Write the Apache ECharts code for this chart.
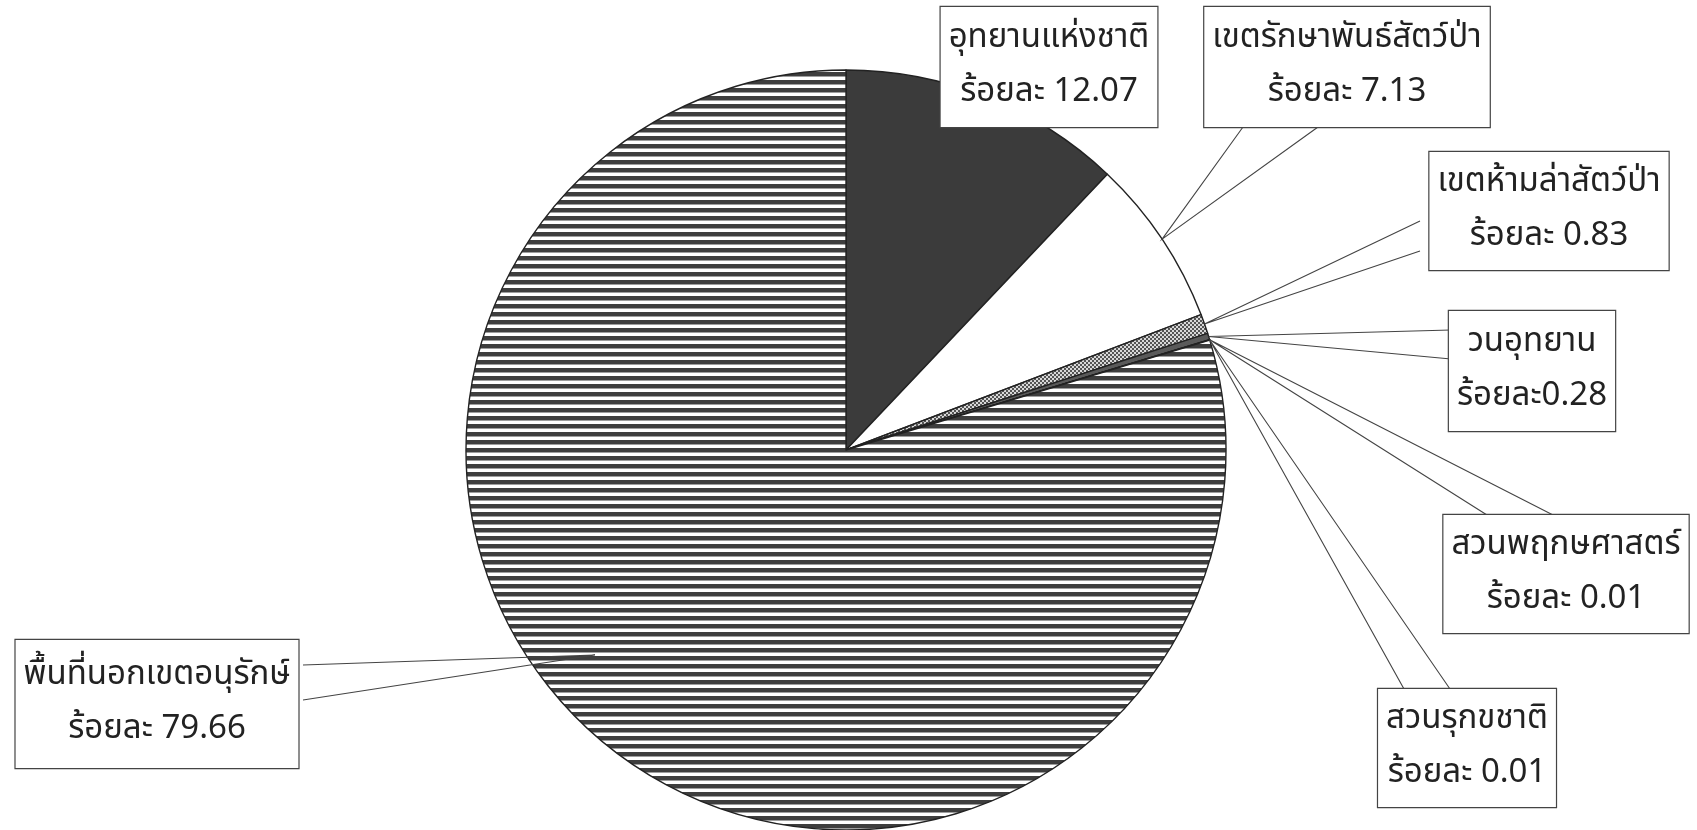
<!DOCTYPE html>
<html><head><meta charset="utf-8">
<script src="https://cdn.jsdelivr.net/npm/echarts@6/dist/echarts.min.js"></script>
<style>html,body{margin:0;padding:0;background:#fff}#c{width:1697px;height:830px}</style>
</head><body><div id="c"></div>
<script>
// ---- data ----
const categories = ['อุทยานแห่งชาติ','เขตรักษาพันธ์สัตว์ป่า','เขตห้ามล่าสัตว์ป่า','วนอุทยาน','สวนพฤกษศาสตร์','สวนรุกขชาติ','พื้นที่นอกเขตอนุรักษ์'];
const values = [12.07, 7.13, 0.83, 0.28, 0.01, 0.01, 79.66];
const valueSeparators = [' ', ' ', ' ', '', ' ', ' ', ' '];
const valuePrefix = 'ร้อยละ';

// ---- layout of callout boxes (px) ----
const boxes = [
  {x:936, y:7,   w:226, pad:6, pointer:null},
  {x:1194,y:7,   w:306, pad:6, pointer:[[1243,127],[1318,127]]},
  {x:1420,y:152, w:258, pad:5, pointer:[[1420,221],[1420,251]]},
  {x:1451,y:311, w:162, pad:6, pointer:[[1451,330],[1451,359]]},
  {x:1448,y:515, w:236, pad:5, pointer:[[1487,515],[1553,515]]},
  {x:1374,y:689, w:186, pad:5, pointer:[[1404,689],[1450,689]]},
  {x:11,  y:640, w:292, pad:10, pointer:[[303,665],[303,700]], tip:[595,655]}
];

function makePattern(w, h, draw){
  const c = document.createElement('canvas'); c.width = w; c.height = h;
  const g = c.getContext('2d'); draw(g); return c;
}
const stripes = makePattern(4, 8, g => { g.fillStyle='#fff'; g.fillRect(0,0,4,8); g.fillStyle='#3e3e3e'; g.fillRect(0,0,4,4.5); });
const dots = makePattern(4, 4, g => { g.fillStyle='#d8d8d8'; g.fillRect(0,0,4,4); g.fillStyle='#555'; g.fillRect(0,0,2,2); g.fillRect(2,2,2,2); });
const fills = ['#3b3b3b', '#ffffff', {image: dots, repeat:'repeat'}, '#5a5a5a', '#ffffff', '#ffffff', {image: stripes, repeat:'repeat'}];

const common = {
  type: 'pie', center: [846, 450], radius: 380, startAngle: 90, clockwise: true,
  avoidLabelOverlap: false, emphasis: {disabled: true}, silent: true
};

const chart = echarts.init(document.getElementById('c'));
chart.setOption({
  backgroundColor: '#fff',
  animation: false,
  series: [
    Object.assign({}, common, {
      z: 2,
      data: categories.map((n, i) => ({name: n, value: values[i], itemStyle: {color: fills[i]}})),
      itemStyle: {borderColor: '#222', borderWidth: 1.4},
      label: {show: false}, labelLine: {show: false}
    }),
    Object.assign({}, common, {
      z: 3,
      data: categories.map((n, i) => ({
        name: n, value: values[i],
        label: {padding: [boxes[i].pad, 8]},
        labelLine: {show: !!boxes[i].pointer}
      })),
      itemStyle: {color: 'rgba(0,0,0,0)', borderWidth: 0},
      label: {
        show: true,
        formatter: p => p.name + '\n' + valuePrefix + valueSeparators[p.dataIndex] + p.value.toFixed(2),
        fontFamily: "'Tahoma','Noto Sans Thai','Loma','Garuda','Noto Sans',sans-serif",
        fontSize: 33,
        lineHeight: 54,
        color: '#222',
        backgroundColor: '#fff',
        borderColor: '#444',
        borderWidth: 1.2,
        align: 'center'
      },
      labelLine: {show: true, lineStyle: {color: '#444', width: 1.1}},
      labelLayout: function (p) {
        const b = boxes[p.dataIndex];
        const res = {x: b.x + b.w / 2, y: b.y, align: 'center', verticalAlign: 'top'};
        if (b.pointer) {
          const tip = b.tip || (p.labelLinePoints ? p.labelLinePoints[0] : [0,0]);
          res.labelLinePoints = [b.pointer[0], tip, b.pointer[1]];
        }
        return res;
      }
    })
  ]
});
</script></body></html>
